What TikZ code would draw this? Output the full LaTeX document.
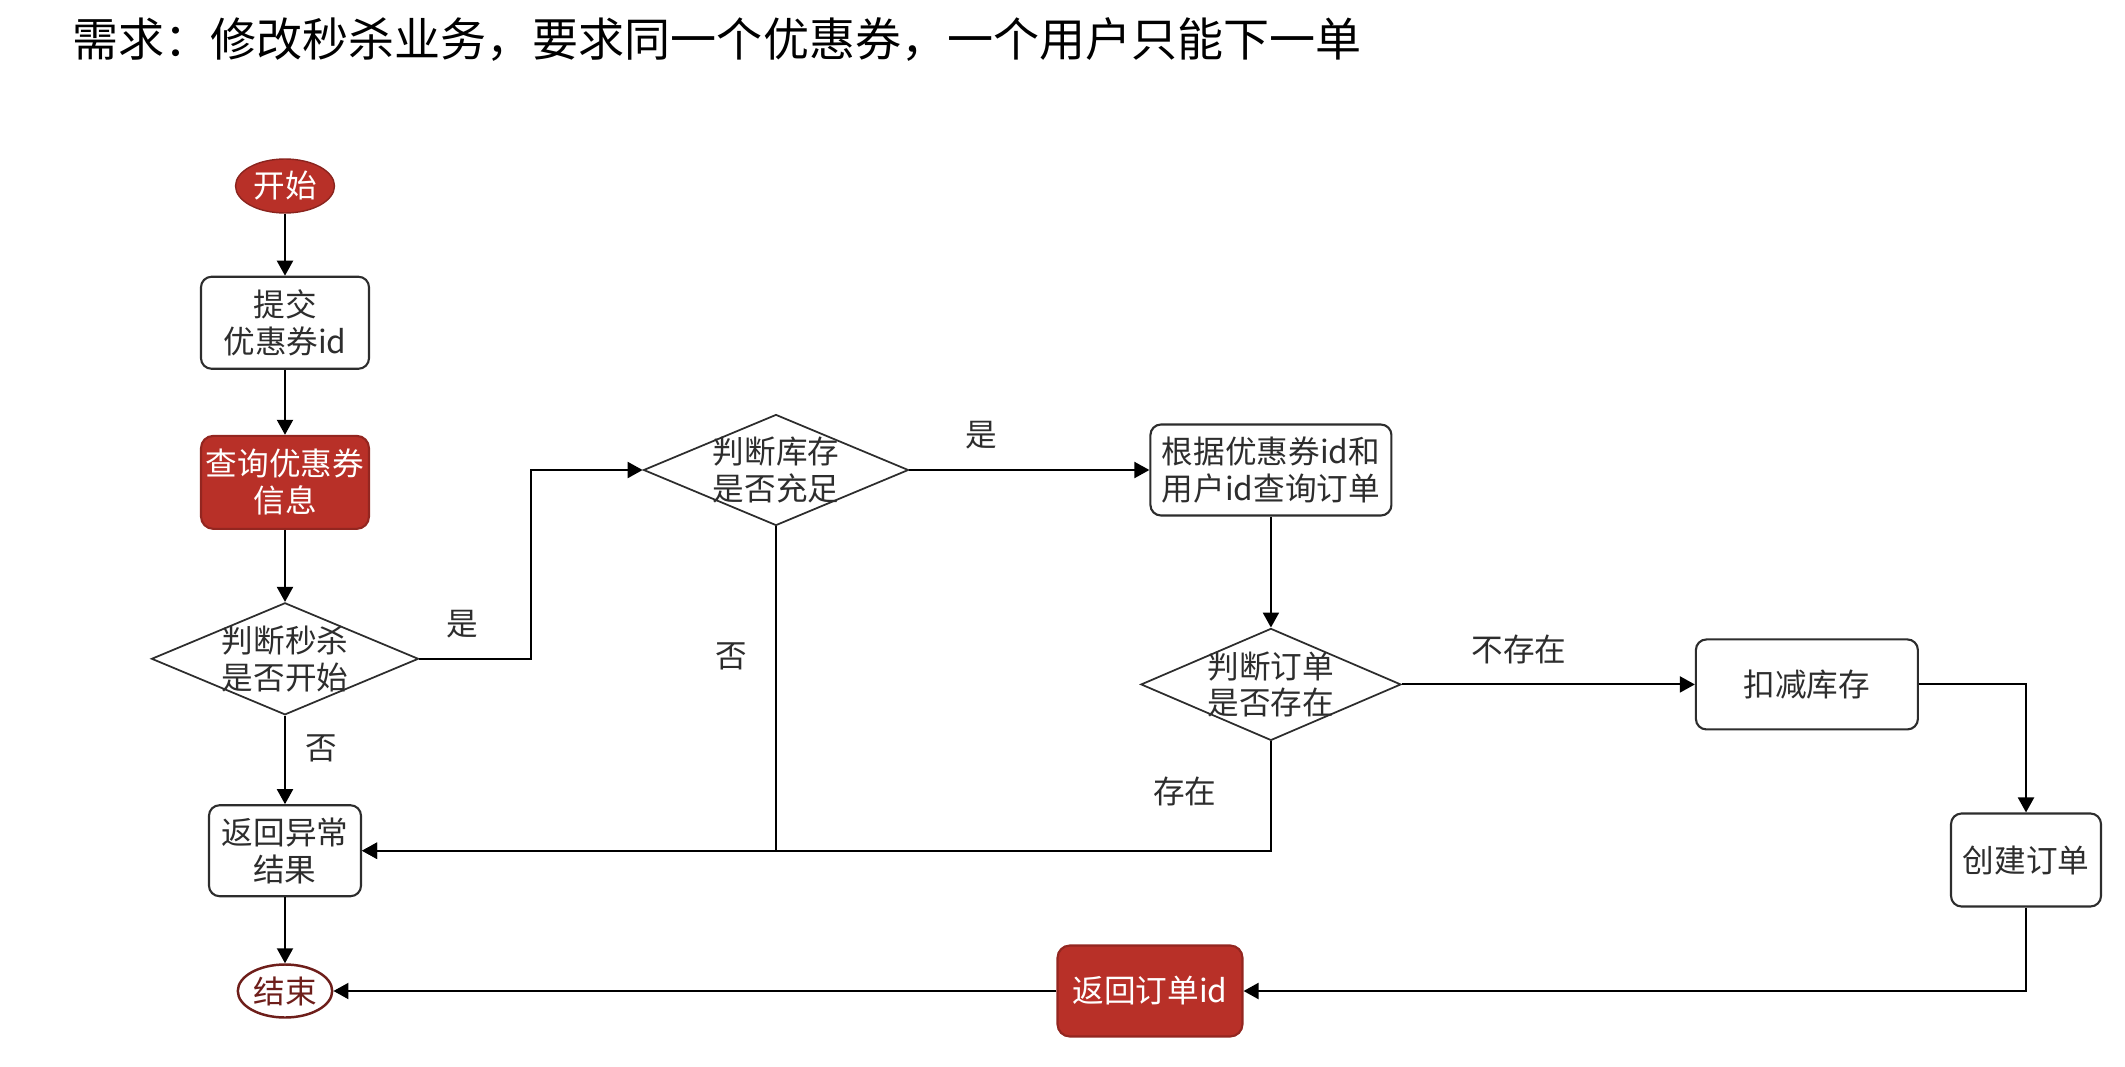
\documentclass[tikz,border=0pt]{standalone}
\usepackage{fontspec}
\setmainfont{Noto Sans CJK SC}
\usetikzlibrary{positioning, arrows.meta, shapes.geometric}
\definecolor{flowred}{RGB}{184, 48, 40}
\definecolor{flowdark}{RGB}{110, 30, 26}
\definecolor{inktext}{RGB}{45, 45, 45}

\begin{document}
\begin{tikzpicture}[x=0.1mm, y=-0.1mm,
    every node/.style={font=\fontsize{9}{10.5}\selectfont, text=inktext},
    term/.style={ellipse, inner sep=0.5pt, minimum width=9.9mm, minimum height=5.4mm},
    proc/.style={draw=inktext, line width=0.6pt, rounded corners=3pt, align=center, inner sep=0.5pt},
    hot/.style={proc, fill=flowred, draw=flowred!80!black, text=white, rounded corners=3.5pt},
    ask/.style={diamond, aspect=2.38, draw=inktext, line width=0.5pt, align=center, inner sep=-1pt},
    lbl/.style={inner sep=1pt},
    arr/.style={-{Triangle[length=1.5mm, width=1.6mm]}, line width=0.6pt, color=black}]
  \useasboundingbox (0,0) rectangle (2125,1067);
  \node[anchor=west, font=\fontsize{13.1}{15}\selectfont, text=black] (title) at (60,40) {需求：修改秒杀业务，要求同一个优惠券，一个用户只能下一单};
  % left column
  \node[term, fill=flowred, draw=flowred!75!black, text=white] (start) at (285,186) {开始};
  \node[proc, minimum width=16.8mm, minimum height=9.2mm, below=6.2mm of start] (submit) {提交\\优惠券id};
  \node[hot, minimum width=16.8mm, minimum height=9.3mm, below=6.5mm of submit] (query) {查询优惠券\\信息};
  \node[ask, minimum width=26.7mm, minimum height=11.2mm, below=7.2mm of query] (chk1) {判断秒杀\\是否开始};
  \node[proc, minimum width=15.2mm, minimum height=9.1mm, below=8.85mm of chk1] (fail) {返回异常\\结果};
  \node[term, draw=flowdark, line width=0.7pt, fill=white, text=flowdark, minimum width=9.4mm, minimum height=5.3mm] (end) at (285,991) {结束};
  % right part
  \node[ask, minimum width=26.5mm, minimum height=11.1mm] (chk2) at (776,470) {判断库存\\是否充足};
  \node[proc, minimum width=24.1mm, minimum height=9.1mm, right=24mm of chk2] (byid) {根据优惠券id和\\用户id查询订单};
  \node[ask, minimum width=25.5mm, minimum height=11.2mm, below=11.1mm of byid] (chk3) {判断订单\\是否存在};
  \node[proc, minimum width=22.2mm, minimum height=9mm, right=29.3mm of chk3] (deduct) {扣减库存};
  \node[proc, minimum width=15mm, minimum height=9.3mm] (create) at (2026,860) {创建订单};
  \node[hot, minimum width=18.5mm, minimum height=9.1mm] (retid) at (1150,991) {返回订单id};
  % connectors
  \draw[arr] (start) -- (submit);
  \draw[arr] (submit) -- (query);
  \draw[arr] (query) -- (chk1);
  \draw[arr] (chk1.east) -- node[lbl, pos=0.38, above=1.6mm]{是} ++(112,0) |- (chk2.west);
  \draw[arr] (chk1) -- node[lbl, pos=0.37, right=1.6mm]{否} (fail);
  \draw[arr] (chk2.east) -- node[lbl, pos=0.3, above=1.6mm]{是} (byid.west);
  \draw[arr] (chk2.south) |- node[lbl, pos=0.2, left=2.4mm]{否} (fail.east);
  \draw[arr] (byid) -- (chk3);
  \draw[arr] (chk3.east) -- node[lbl, pos=0.4, above=1.6mm]{不存在} (deduct.west);
  \draw[arr] (chk3.south) |- node[lbl, pos=0.23, left=5mm]{存在} (fail.east);
  \draw[arr] (deduct.east) -| (create.north);
  \draw[arr] (create.south) |- (retid.east);
  \draw[arr] (retid.west) -- (end.east);
  \draw[arr] (fail) -- (end);
\end{tikzpicture}
\end{document}
